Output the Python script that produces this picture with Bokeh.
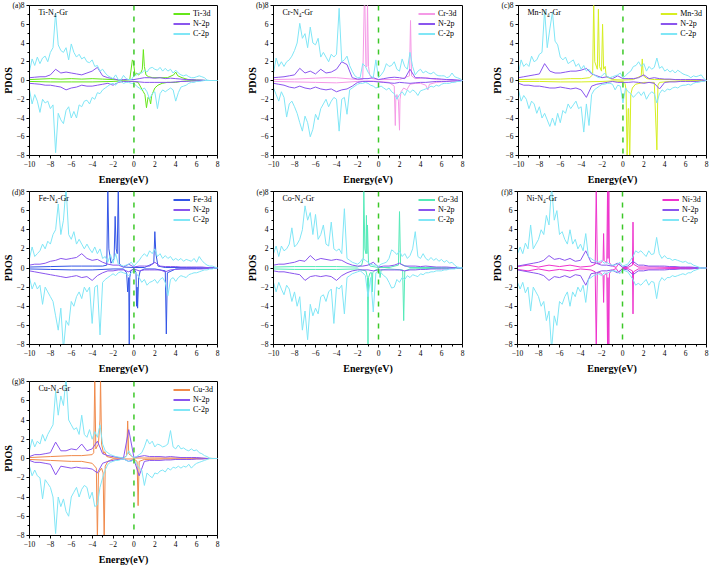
from bokeh.plotting import figure
from bokeh.models import Span, Label, Legend, LegendItem, FixedTicker
from bokeh.layouts import column, row
from bokeh.embed import file_html
from bokeh.resources import INLINE

# ---------------- energy grids (eV) ----------------
ENERGY_C = [-10.0, -9.75, -9.5, -9.25, -9.0, -8.75, -8.5, -8.25,
            -8.0, -7.75, -7.5, -7.25, -7.0, -6.75, -6.5, -6.25,
            -6.0, -5.75, -5.5, -5.25, -5.0, -4.75, -4.5, -4.25,
            -4.0, -3.75, -3.5, -3.25, -3.0, -2.75, -2.5, -2.25,
            -2.0, -1.75, -1.5, -1.25, -1.0, -0.75, -0.5, -0.25,
            0.0, 0.25, 0.5, 0.75, 1.0, 1.25, 1.5, 1.75,
            2.0, 2.25, 2.5, 2.75, 3.0, 3.25, 3.5, 3.75,
            4.0, 4.25, 4.5, 4.75, 5.0, 5.25, 5.5, 5.75,
            6.0, 6.25, 6.5, 6.75, 7.0, 7.25, 7.5, 7.75,
            8.0]
ENERGY_N = [-10.0, -9.5, -9.0, -8.5, -8.0, -7.5, -7.0, -6.5, -6.0, -5.5,
            -5.0, -4.5, -4.0, -3.5, -3.0, -2.5, -2.0, -1.5, -1.0, -0.5,
            0.0, 0.5, 1.0, 1.5, 2.0, 2.5, 3.0, 3.5, 4.0, 4.5,
            5.0, 5.5, 6.0, 6.5, 7.0, 7.5, 8.0]

# ---------------- (a) Ti-N4-Gr ----------------
TI_C_UP = [1.0, 2.3, 1.6, 2.5, 1.8, 2.4, 2.6, 2.0,
           3.0, 3.5, 7.2, 3.8, 3.2, 3.0, 3.5, 2.2,
           3.9, 3.0, 2.5, 2.8, 2.3, 2.5, 2.0, 1.9,
           2.2, 1.5, 1.6, 1.0, 1.2, 0.8, 0.5, 0.35,
           0.2, 0.6, 0.1, 0.05, 0.55, 0.2, 0.1, 0.1,
           0.5, 0.6, 0.8, 0.8, 1.1, 0.9, 1.3, 1.4,
           1.2, 1.1, 1.4, 1.0, 1.3, 1.0, 1.2, 0.8,
           1.1, 0.8, 0.6, 0.5, 0.6, 0.4, 0.3, 0.3,
           0.4, 0.5, 0.4, 0.3, 0.05, 0.0, 0.0, 0.0,
           0.0]
TI_C_DN = [-1.0, -2.5, -1.5, -2.2, -3.4, -2.0, -2.4, -2.2,
           -3.0, -2.6, -7.7, -3.5, -4.2, -4.6, -3.2, -2.8,
           -4.0, -3.3, -4.0, -2.6, -2.8, -2.2, -2.1, -2.5,
           -1.8, -2.0, -1.3, -1.4, -1.0, -0.8, -0.6, -0.4,
           -0.3, -0.5, -0.1, -0.1, -0.3, -0.2, -0.2, -0.3,
           -0.3, -0.6, -0.8, -1.0, -0.8, -1.2, -2.0, -1.4,
           -1.2, -3.0, -1.4, -1.0, -1.2, -1.0, -0.8, -1.0,
           -2.2, -1.3, -0.7, -0.6, -0.5, -0.3, -0.2, -0.2,
           -0.1, -0.1, -0.05, 0.0, 0.0, 0.0, 0.0, 0.0,
           0.0]
TI_N_UP = [0.3, 0.35, 0.4, 0.4, 0.6, 1.2, 0.8, 0.9, 0.8, 0.7,
           0.6, 0.8, 1.0, 1.4, 0.5, 0.3, 0.2, 0.05, 0.1, 0.1,
           0.1, 0.2, 0.3, 0.3, 0.25, 0.3, 0.2, 0.25, 0.2, 0.15,
           0.1, 0.1, 0.05, 0.05, 0.0, 0.0, 0.0]
TI_N_DN = [-0.3, -0.35, -0.4, -0.5, -0.5, -0.6, -0.7, -1.0, -0.8, -0.7,
           -0.5, -0.6, -0.6, -0.5, -0.4, -0.3, -0.5, -0.2, -0.1, -0.1,
           -0.1, -0.15, -0.2, -0.2, -0.2, -0.2, -0.2, -0.2, -0.15, -0.1,
           -0.1, -0.05, -0.05, 0.0, 0.0, 0.0, 0.0]
TI_D_UP_E = [-10, -9, -8, -7, -6, -5, -4, -3, -2, -1,
             -0.4, -0.15, -0.05, 0.1, 0.25, 0.45, 0.65, 0.8, 0.9, 1.0,
             1.15, 1.4, 1.8, 2.5, 3.2, 3.8, 4.0, 4.2, 4.6, 5.2,
             6.0, 7.0, 8.0]
TI_D_UP = [0.1, 0.15, 0.2, 0.15, 0.2, 0.15, 0.2, 0.15, 0.1, 0.05,
           0.1, 2.2, 2.0, 0.6, 0.8, 0.6, 0.8, 1.2, 3.3, 1.5,
           0.6, 0.4, 0.3, 0.3, 0.3, 0.6, 0.9, 0.5, 0.3, 0.1,
           0.05, 0.0, 0.0]
TI_D_DN_E = [-10, -8, -6, -4, -2, -1, 0, 0.4, 0.7, 0.9,
             1.05, 1.2, 1.35, 1.5, 1.6, 1.7, 1.85, 2.0, 2.3, 2.7,
             3.2, 4.0, 4.5, 5.0, 6.0, 8.0]
TI_D_DN = [-0.1, -0.15, -0.15, -0.15, -0.1, -0.05, -0.1, -0.2, -0.8, -1.2,
           -1.5, -2.9, -1.8, -2.0, -2.5, -1.6, -1.2, -0.8, -0.5, -0.3,
           -0.2, -0.2, -0.1, -0.05, 0.0, 0.0]

# ---------------- (b) Cr-N4-Gr ----------------
CR_C_UP = [0.8, 2.4, 1.5, 2.0, 1.5, 2.0, 2.2, 2.6,
           3.2, 4.0, 6.1, 4.5, 5.0, 3.5, 5.7, 4.0,
           3.8, 4.5, 2.5, 3.0, 2.5, 2.0, 2.8, 2.5,
           2.8, 7.7, 2.0, 2.2, 2.6, 1.6, 1.0, 0.5,
           0.3, 0.3, 1.8, 1.5, 0.9, 0.5, 0.3, 2.2,
           0.3, 0.6, 1.0, 1.8, 1.5, 1.6, 2.0, 1.2,
           1.0, 2.3, 1.5, 1.2, 3.0, 1.5, 0.6, 1.0,
           1.2, 0.8, 1.0, 0.8, 0.7, 0.9, 0.6, 0.5,
           0.5, 0.5, 0.3, 0.4, 0.8, 0.4, 0.3, 0.2,
           0.0]
CR_C_DN = [-0.8, -1.5, -2.2, -1.2, -1.8, -3.9, -2.5, -2.2,
           -2.8, -3.5, -4.5, -5.4, -3.8, -4.5, -6.0, -5.2,
           -3.6, -4.2, -3.0, -2.5, -2.0, -2.8, -2.2, -1.8,
           -2.0, -5.4, -2.0, -1.8, -3.6, -1.0, -0.8, -0.6,
           -0.4, -0.3, -0.3, -0.2, -0.3, -0.5, -0.6, -0.8,
           -0.7, -0.6, -0.8, -1.0, -0.8, -1.2, -1.4, -2.0,
           -1.5, -1.2, -1.6, -1.0, -1.3, -1.0, -1.2, -1.6,
           -1.1, -1.0, -0.9, -0.8, -0.6, -0.7, -0.5, -0.6,
           -0.4, -0.3, -0.3, -0.3, -0.2, -0.2, -0.1, -0.1,
           0.0]
CR_N_UP = [0.3, 0.35, 0.4, 0.5, 0.6, 1.3, 0.8, 1.0, 0.7, 1.2,
           0.8, 0.9, 1.2, 2.0, 1.7, 0.3, 0.15, 0.2, 0.2, 0.3,
           0.1, 0.2, 0.3, 0.35, 0.3, 0.2, 1.2, 0.3, 0.3, 0.25,
           0.2, 0.2, 0.15, 0.1, 0.1, 0.05, 0.0]
CR_N_DN = [-0.3, -0.4, -0.5, -0.7, -0.8, -0.6, -0.8, -0.9, -0.7, -0.9,
           -1.0, -0.9, -1.2, -1.0, -0.9, -0.6, -0.2, -0.1, -0.1, -0.1,
           -0.15, -0.2, -0.25, -0.3, -0.2, -0.25, -0.3, -0.25, -0.2, -0.2,
           -0.15, -0.1, -0.1, -0.1, -0.05, -0.05, 0.0]
CR_D_UP_E = [-10, -8, -6, -5, -4, -3, -2, -1.5, -1.35, -1.3,
             -1.2, -1.1, -1.05, -0.95, -0.85, -0.6, 0, 1, 2, 2.95,
             3.05, 3.15, 3.5, 4.6, 5.5, 7, 8]
CR_D_UP = [0.1, 0.15, 0.25, 0.3, 0.3, 0.2, 0.1, 0.1, 8.5, 8.5,
           1.5, 1.5, 8.5, 1.5, 0.6, 0.2, 0.1, 0.1, 0.1, 0.5,
           6.4, 0.5, 0.2, 0.3, 0.1, 0.05, 0.0]
CR_D_DN_E = [-10, -8, -6, -4, -2, -1, 0, 1, 1.5, 1.6,
             1.65, 1.75, 1.9, 2.0, 2.05, 2.15, 2.4, 2.7, 3.0, 3.5,
             4.0, 4.5, 4.7, 4.85, 5.5, 6.5, 8]
CR_D_DN = [-0.1, -0.15, -0.2, -0.25, -0.1, -0.05, -0.1, -0.2, -0.6, -4.8,
           -2.0, -1.5, -2.2, -5.3, -2.0, -1.2, -0.8, -1.0, -0.4, -0.3,
           -0.3, -0.5, -1.0, -0.4, -0.2, -0.1, 0.0]

# ---------------- (c) Mn-N4-Gr ----------------
MN_C_UP = [0.8, 2.2, 1.5, 1.8, 1.5, 2.6, 2.0, 2.2,
           2.8, 3.0, 7.5, 3.5, 5.5, 7.3, 4.2, 3.8,
           2.5, 2.2, 2.5, 1.8, 2.0, 2.2, 1.5, 1.8,
           1.2, 1.6, 1.0, 1.2, 0.8, 0.6, 0.4, 0.3,
           0.5, 0.8, 0.4, 0.3, 0.4, 0.5, 0.6, 0.8,
           0.3, 0.5, 0.8, 1.0, 1.5, 1.6, 2.0, 1.5,
           1.8, 1.0, 1.5, 1.2, 1.4, 2.4, 1.3, 1.5,
           1.0, 1.2, 0.9, 1.1, 0.8, 1.1, 0.9, 0.7,
           0.6, 0.5, 0.3, 0.5, 0.4, 0.5, 0.6, 0.2,
           0.0]
MN_C_DN = [-1.0, -2.2, -1.6, -2.0, -3.0, -2.2, -2.5, -3.5,
           -2.8, -4.0, -3.5, -4.2, -4.9, -4.0, -4.8, -3.5,
           -4.5, -3.2, -3.5, -2.5, -3.0, -2.6, -2.2, -3.0,
           -2.8, -5.5, -2.5, -4.8, -1.5, -1.0, -0.8, -0.6,
           -0.4, -0.4, -0.3, -0.3, -0.4, -1.0, -0.5, -0.6,
           -2.4, -0.8, -1.2, -1.4, -1.8, -1.5, -1.2, -1.6,
           -1.2, -2.0, -1.5, -1.2, -1.4, -2.4, -1.4, -1.0,
           -1.2, -0.9, -1.0, -0.8, -0.7, -0.8, -0.6, -0.5,
           -0.5, -0.4, -0.5, -0.3, -0.2, -0.2, -0.1, -0.1,
           0.0]
MN_N_UP = [0.3, 0.4, 0.5, 0.6, 0.7, 1.8, 1.0, 0.8, 0.8, 0.9,
           1.0, 1.0, 1.1, 1.3, 0.7, 0.5, 0.3, 0.4, 0.2, 0.5,
           0.2, 0.2, 0.2, 0.3, 0.6, 0.2, 0.3, 0.2, 0.15, 0.15,
           0.1, 0.1, 0.1, 0.1, 0.1, 0.1, 0.0]
MN_N_DN = [-0.3, -0.5, -0.5, -0.6, -0.6, -0.7, -0.8, -0.8, -0.7, -0.8,
           -0.9, -0.8, -1.0, -1.8, -0.6, -0.4, -0.3, -0.2, -0.1, -0.2,
           -0.2, -0.2, -0.15, -0.2, -0.3, -0.2, -0.3, -0.9, -0.2, -0.15,
           -0.15, -0.1, -0.1, -0.1, -0.1, -0.05, 0.0]
MN_D_UP_E = [-10, -8, -6, -5, -4, -3.2, -2.9, -2.8, -2.7, -2.45,
             -2.35, -2.25, -2.05, -1.95, -1.85, -1.7, -1.6, -1.4, -1, 0,
             1.0, 1.75, 1.85, 1.95, 2.3, 3, 4.5, 6, 8]
MN_D_UP = [0.1, 0.15, 0.15, 0.2, 0.2, 0.3, 0.6, 8.5, 2.0, 1.2,
           7.6, 1.5, 1.0, 6.0, 1.2, 1.5, 0.4, 0.3, 0.1, 0.05,
           0.1, 0.5, 2.3, 0.5, 0.2, 0.1, 0.1, 0.05, 0.0]
MN_D_DN_E = [-10, -8, -6, -4, -2, -1, 0, 0.2, 0.3, 0.4,
             0.5, 0.55, 0.65, 0.75, 0.9, 1.2, 2.0, 3.0, 3.25, 3.35,
             3.5, 4.5, 6, 8]
MN_D_DN = [-0.1, -0.1, -0.15, -0.15, -0.1, -0.05, -0.1, -0.3, -1.0, -8.5,
           -3.0, -3.0, -8.5, -1.5, -0.8, -0.4, -0.2, -0.2, -7.4, -0.5,
           -0.2, -0.1, -0.05, 0.0]

# ---------------- (d) Fe-N4-Gr ----------------
FE_C_UP = [1.0, 2.2, 1.2, 1.5, 1.8, 2.5, 2.0, 2.8,
           2.5, 3.5, 4.0, 6.7, 3.5, 5.0, 8.5, 3.5,
           3.0, 3.8, 2.5, 3.0, 2.5, 2.0, 2.5, 2.0,
           1.6, 2.2, 1.5, 2.0, 1.0, 1.2, 0.6, 1.4,
           0.5, 1.5, 0.4, 0.3, 0.2, 0.3, 0.4, 0.6,
           0.2, 0.5, 0.8, 1.2, 1.5, 1.2, 1.8, 1.5,
           2.0, 1.2, 1.5, 1.0, 1.3, 1.0, 1.2, 0.8,
           1.0, 0.8, 1.0, 0.7, 0.9, 0.8, 0.7, 1.0,
           0.6, 1.2, 0.8, 0.5, 0.3, 0.2, 0.2, 0.1,
           0.0]
FE_C_DN = [-1.0, -2.2, -1.5, -2.2, -1.8, -3.8, -2.0, -2.5,
           -3.0, -3.5, -5.0, -6.5, -4.2, -8.5, -5.5, -6.0,
           -3.5, -4.0, -3.0, -2.5, -3.2, -2.0, -2.5, -2.0,
           -5.8, -2.0, -1.8, -7.0, -1.5, -1.2, -1.0, -0.8,
           -0.6, -0.8, -0.5, -0.4, -0.5, -0.6, -0.8, -0.5,
           -0.3, -0.6, -1.0, -1.5, -1.2, -1.8, -1.5, -1.4,
           -1.2, -1.6, -1.2, -1.0, -1.5, -2.9, -1.2, -1.0,
           -1.4, -1.0, -0.8, -0.9, -1.0, -0.7, -0.6, -0.5,
           -0.5, -0.4, -0.3, -0.2, -0.2, -0.1, -0.1, 0.0,
           0.0]
FE_N_UP = [0.3, 0.4, 0.4, 0.5, 0.7, 0.8, 1.0, 0.9, 1.0, 1.1,
           1.5, 1.0, 0.8, 0.9, 0.6, 0.4, 0.3, 0.3, 0.1, 0.4,
           0.1, 0.2, 0.2, 0.2, 0.6, 0.2, 0.15, 0.15, 0.15, 0.1,
           0.1, 0.1, 0.1, 0.1, 0.05, 0.0, 0.0]
FE_N_DN = [-0.3, -0.4, -0.5, -0.6, -0.7, -0.8, -0.9, -1.0, -0.9, -0.8,
           -1.0, -0.9, -1.3, -0.8, -0.5, -0.3, -0.3, -0.2, -0.2, -0.4,
           -0.1, -0.3, -0.2, -0.2, -0.2, -0.2, -0.4, -0.2, -0.15, -0.1,
           -0.1, -0.1, -0.1, -0.1, -0.05, 0.0, 0.0]
FE_D_UP_E = [-10, -8, -6, -5, -4, -3, -2.6, -2.5, -2.4, -2.2,
             -1.9, -1.8, -1.7, -1.6, -1.5, -1.4, -1.2, -1, 0, 1,
             1.9, 2.0, 2.1, 2.3, 3, 5, 8]
FE_D_UP = [0.1, 0.15, 0.2, 0.2, 0.2, 0.2, 0.3, 8.5, 2.0, 0.5,
           1.0, 5.4, 2.0, 1.5, 8.5, 0.5, 0.2, 0.1, 0.05, 0.05,
           0.5, 3.8, 1.5, 0.2, 0.05, 0.05, 0.0]
FE_D_DN_E = [-10, -8, -6, -4, -2, -1, -0.7, -0.6, -0.5, -0.45,
             -0.4, -0.3, 0, 0.2, 0.25, 0.3, 0.35, 0.45, 0.6, 1,
             2, 3.0, 3.1, 3.2, 4, 6, 8]
FE_D_DN = [-0.1, -0.15, -0.2, -0.2, -0.1, -0.1, -0.5, -2.5, -1.0, -8.5,
           -1.0, -0.3, -0.05, -0.5, -4.0, -2.0, -4.2, -1.0, -0.3, -0.1,
           -0.1, -0.3, -6.9, -0.5, -0.1, -0.05, 0.0]

# ---------------- (e) Co-N4-Gr ----------------
CO_C_UP = [1.5, 2.3, 1.2, 2.3, 1.8, 2.0, 2.5, 4.2,
           2.2, 2.5, 3.0, 4.0, 6.5, 5.0, 5.8, 3.5,
           5.6, 3.0, 3.5, 4.5, 2.5, 2.3, 4.8, 2.0,
           1.8, 2.0, 1.5, 6.2, 1.0, 0.8, 0.6, 0.5,
           0.4, 0.6, 1.0, 0.8, 0.6, 0.4, 0.3, 0.3,
           0.2, 0.4, 0.5, 0.6, 1.0, 1.9, 1.7, 1.4,
           1.8, 1.2, 1.5, 1.0, 1.3, 2.0, 3.8, 1.2,
           1.0, 1.5, 1.0, 0.8, 1.1, 0.8, 1.0, 0.7,
           0.9, 0.6, 0.8, 0.5, 0.6, 0.3, 0.1, 0.05,
           0.0]
CO_C_DN = [-1.5, -2.5, -1.5, -2.2, -2.8, -1.8, -2.2, -3.5,
           -2.5, -4.0, -3.0, -6.5, -4.5, -7.5, -3.8, -5.0,
           -4.2, -4.8, -3.0, -2.8, -3.5, -2.5, -2.2, -5.8,
           -2.0, -2.2, -1.8, -4.8, -1.0, -0.8, -0.6, -0.5,
           -0.4, -0.3, -0.5, -0.8, -3.0, -1.0, -4.6, -0.5,
           -0.3, -0.5, -0.8, -1.0, -1.5, -2.1, -2.0, -1.2,
           -1.5, -1.0, -1.2, -0.8, -1.0, -0.7, -0.8, -0.9,
           -0.6, -0.7, -0.5, -0.5, -0.4, -0.4, -0.3, -0.3,
           -0.3, -0.2, -0.2, -0.1, -0.1, -0.1, 0.0, 0.0,
           0.0]
CO_N_UP = [0.3, 0.4, 0.4, 0.5, 0.6, 0.8, 0.7, 1.3, 0.8, 1.0,
           0.9, 0.8, 0.9, 0.8, 0.5, 0.3, 0.2, 0.2, 0.3, 0.6,
           0.1, 0.2, 0.2, 0.3, 0.5, 0.2, 0.2, 0.2, 0.15, 0.2,
           0.15, 0.1, 0.1, 0.1, 0.05, 0.0, 0.0]
CO_N_DN = [-0.3, -0.4, -0.4, -0.5, -0.6, -0.7, -1.3, -0.9, -0.8, -0.9,
           -0.8, -0.9, -1.3, -0.8, -0.5, -0.3, -0.2, -0.2, -0.2, -0.3,
           -0.2, -0.2, -0.2, -0.2, -0.2, -0.3, -0.2, -0.2, -0.15, -0.15,
           -0.1, -0.1, -0.1, -0.1, -0.05, 0.0, 0.0]
CO_D_UP_E = [-10, -8, -6, -4, -2, -1.6, -1.45, -1.4, -1.3, -1.2,
             -1.15, -1.1, -1.05, -0.95, -0.8, 0, 1, 1.9, 2.0, 2.1,
             3, 5, 8]
CO_D_UP = [0.1, 0.15, 0.15, 0.15, 0.1, 0.3, 1.0, 8.5, 2.0, 1.5,
           5.5, 1.5, 4.5, 0.5, 0.2, 0.05, 0.05, 0.3, 5.9, 0.4,
           0.05, 0.05, 0.0]
CO_D_DN_E = [-10, -8, -6, -4, -2, -1.2, -1.05, -1.0, -0.95, -0.8,
             -0.65, -0.6, -0.55, -0.3, 0, 0.1, 0.15, 0.25, 1, 2.3,
             2.4, 2.5, 3, 5, 8]
CO_D_DN = [-0.1, -0.15, -0.15, -0.15, -0.1, -0.3, -1.0, -8.5, -1.0, -0.5,
           -0.5, -2.5, -0.5, -0.2, -0.1, -0.5, -1.0, -0.2, -0.1, -0.2,
           -5.5, -0.3, -0.1, -0.05, 0.0]

# ---------------- (f) Ni-N4-Gr (spin-symmetric) ----------------
NI_C_UP = [1.5, 2.2, 1.5, 2.6, 2.0, 4.5, 2.0, 2.5,
           3.0, 4.0, 3.5, 5.5, 4.5, 8.5, 5.0, 6.0,
           3.5, 3.8, 3.0, 2.5, 4.0, 2.5, 3.0, 2.0,
           2.5, 1.8, 3.6, 1.2, 1.0, 0.8, 0.7, 0.6,
           0.8, 0.5, 0.6, 0.4, 0.3, 0.3, 0.4, 0.6,
           0.2, 0.3, 0.4, 0.8, 1.2, 1.8, 1.6, 1.8,
           1.5, 1.2, 1.8, 1.4, 1.5, 3.2, 1.5, 1.0,
           1.3, 1.0, 1.0, 0.8, 0.9, 0.8, 0.7, 0.6,
           0.7, 0.5, 0.5, 0.3, 0.2, 0.1, 0.0, 0.0,
           0.0]
NI_C_DN = [-1.5, -2.2, -1.5, -2.6, -2.0, -4.5, -2.0, -2.5,
           -3.0, -4.0, -3.5, -5.5, -4.5, -8.5, -5.0, -6.0,
           -3.5, -3.8, -3.0, -2.5, -4.0, -2.5, -3.0, -2.0,
           -2.5, -1.8, -3.6, -1.2, -1.0, -0.8, -0.7, -0.6,
           -0.8, -0.5, -0.6, -0.4, -0.3, -0.3, -0.4, -0.6,
           -0.2, -0.3, -0.4, -0.8, -1.2, -1.8, -1.6, -1.8,
           -1.5, -1.2, -1.8, -1.4, -1.5, -3.2, -1.5, -1.0,
           -1.3, -1.0, -1.0, -0.8, -0.9, -0.8, -0.7, -0.6,
           -0.7, -0.5, -0.5, -0.3, -0.2, -0.1, 0.0, 0.0,
           0.0]
NI_N_UP = [0.2, 0.3, 0.4, 0.5, 0.6, 0.8, 1.3, 0.9, 1.0, 0.8,
           1.0, 0.7, 0.8, 1.8, 0.6, 0.5, 0.3, 0.3, 0.2, 0.5,
           0.1, 0.2, 0.7, 0.3, 0.3, 0.2, 0.2, 0.2, 0.2, 0.15,
           0.15, 0.1, 0.1, 0.1, 0.05, 0.0, 0.0]
NI_N_DN = [-0.2, -0.3, -0.4, -0.5, -0.6, -0.8, -1.3, -0.9, -1.0, -0.8,
           -1.0, -0.7, -0.8, -1.8, -0.6, -0.5, -0.3, -0.3, -0.2, -0.5,
           -0.1, -0.2, -0.7, -0.3, -0.3, -0.2, -0.2, -0.2, -0.2, -0.15,
           -0.15, -0.1, -0.1, -0.1, -0.05, 0.0, 0.0]
NI_D_E = [-10, -9, -8, -7, -6, -5, -4, -3, -2.6, -2.5,
          -2.4, -2.1, -1.85, -1.8, -1.75, -1.5, -1.42, -1.38, -1.3, -1.25,
          -1.1, -0.6, -0.35, -0.15, 0, 0.5, 0.95, 1.0, 1.05, 1.5,
          3, 5, 7, 8]
NI_D_UP = [0.15, 0.3, 0.1, 0.3, 0.15, 0.3, 0.1, 0.2, 0.4, 8.5,
           0.5, 0.5, 0.8, 3.6, 0.8, 0.5, 8.5, 1.0, 8.5, 0.6,
           0.3, 0.05, 0.5, 0.2, 0.05, 0.05, 0.3, 4.8, 0.4, 0.1,
           0.1, 0.05, 0.05, 0.0]
NI_D_DN = [-0.15, -0.3, -0.1, -0.3, -0.15, -0.3, -0.1, -0.2, -0.4, -8.5,
           -0.5, -0.5, -0.8, -3.6, -0.8, -0.5, -8.5, -1.0, -8.5, -0.6,
           -0.3, -0.05, -0.5, -0.2, -0.05, -0.05, -0.3, -4.8, -0.4, -0.1,
           -0.1, -0.05, -0.05, 0.0]

# ---------------- (g) Cu-N4-Gr ----------------
CU_C_UP = [0.8, 2.0, 1.2, 1.8, 1.5, 2.5, 1.8, 2.5,
           3.0, 3.5, 7.0, 4.5, 6.5, 5.5, 8.5, 4.0,
           3.5, 3.0, 3.2, 2.5, 4.5, 2.5, 2.2, 3.0,
           2.0, 2.8, 2.2, 3.5, 1.5, 0.8, 0.6, 0.4,
           0.3, 0.2, 0.15, 0.1, 0.05, 0.2, 0.8, 0.3,
           0.1, 0.2, 0.4, 0.6, 1.2, 2.0, 1.5, 1.8,
           1.2, 1.5, 1.4, 1.2, 1.3, 1.5, 2.9, 1.2,
           1.0, 1.4, 1.0, 1.1, 0.9, 0.8, 1.0, 0.8,
           0.9, 0.6, 0.5, 0.3, 0.2, 0.05, 0.0, 0.0,
           0.0]
CU_C_DN = [-0.8, -1.8, -1.2, -1.8, -2.0, -4.2, -2.2, -2.6,
           -3.0, -4.0, -7.8, -4.0, -5.0, -4.2, -5.5, -6.0,
           -4.0, -3.5, -3.0, -4.0, -3.2, -2.8, -3.0, -4.2,
           -3.5, -5.0, -4.8, -3.0, -2.0, -1.2, -0.6, -0.4,
           -0.3, -0.2, -0.2, -0.1, -0.05, -0.2, -0.3, -0.3,
           -0.1, -0.6, -1.0, -1.2, -2.8, -1.5, -1.8, -2.0,
           -1.5, -1.6, -1.3, -1.2, -1.4, -1.0, -1.2, -0.9,
           -1.0, -0.8, -1.0, -0.8, -0.9, -0.6, -1.0, -0.7,
           -0.5, -0.4, -0.3, -0.2, -0.1, 0.0, 0.0, 0.0,
           0.0]
CU_N_UP = [0.2, 0.4, 0.4, 0.5, 0.6, 1.7, 0.8, 0.8, 1.0, 0.9,
           1.5, 0.8, 1.0, 1.8, 0.5, 0.3, 0.2, 0.1, 0.05, 3.0,
           0.1, 0.2, 0.3, 0.2, 0.2, 0.2, 0.15, 0.2, 0.15, 0.1,
           0.1, 0.1, 0.1, 0.05, 0.0, 0.0, 0.0]
CU_N_DN = [-0.2, -0.4, -0.4, -0.5, -0.6, -1.7, -0.8, -0.9, -1.0, -0.9,
           -1.0, -1.0, -1.1, -1.5, -0.5, -0.3, -0.2, -0.1, -0.05, -0.3,
           -0.1, -1.8, -0.3, -0.2, -0.2, -0.2, -0.15, -0.15, -0.1, -0.1,
           -0.1, -0.1, -0.05, -0.05, 0.0, 0.0, 0.0]
CU_D_UP_E = [-10, -8, -6, -5, -4, -3.85, -3.75, -3.65, -3.4, -3.25,
             -3.2, -3.1, -2.9, -2.8, -2.6, -2, -1, -0.7, -0.6, -0.5,
             0, 2, 5, 8]
CU_D_UP = [0.1, 0.2, 0.3, 0.3, 0.4, 0.6, 8.5, 1.0, 1.5, 4.0,
           8.5, 1.5, 0.5, 0.7, 0.2, 0.05, 0.05, 0.3, 3.9, 0.5,
           0.05, 0.05, 0.05, 0.0]
CU_D_DN_E = [-10, -8, -6, -5, -4, -3.6, -3.5, -3.4, -3.1, -2.95,
             -2.85, -2.75, -2.5, -2, -1, 0, 0.3, 0.4, 0.5, 1,
             3, 5, 8]
CU_D_DN = [-0.1, -0.2, -0.3, -0.3, -0.5, -1.0, -8.5, -1.5, -1.0, -1.5,
           -8.5, -0.8, -0.3, -0.05, -0.05, -0.05, -0.3, -4.9, -0.3, -0.1,
           -0.05, -0.05, 0.0]

PANEL_TAGS = ["(a)", "(b)", "(c)", "(d)", "(e)", "(f)", "(g)"]
METALS = ["Ti", "Cr", "Mn", "Fe", "Co", "Ni", "Cu"]
METAL_COLORS = ["#66e619", "#f59ae6", "#d6ee22", "#3355e6", "#55eab8", "#ee33cc", "#f08a4b"]
N_COLOR = "#8a55ee"
C_COLOR = "#80e6f6"
FERMI_COLOR = "#3cc828"
X_TICKS = [-10, -8, -6, -4, -2, 0, 2, 4, 6, 8]
X_MINOR = [-9, -7, -5, -3, -1, 1, 3, 5, 7]
Y_TICKS = [-8, -6, -4, -2, 0, 2, 4, 6, 8]
Y_MINOR = [-7, -5, -3, -1, 1, 3, 5, 7]

PANEL_DATA = [
    (TI_D_UP_E, TI_D_UP, TI_D_DN_E, TI_D_DN, TI_N_UP, TI_N_DN, TI_C_UP, TI_C_DN),
    (CR_D_UP_E, CR_D_UP, CR_D_DN_E, CR_D_DN, CR_N_UP, CR_N_DN, CR_C_UP, CR_C_DN),
    (MN_D_UP_E, MN_D_UP, MN_D_DN_E, MN_D_DN, MN_N_UP, MN_N_DN, MN_C_UP, MN_C_DN),
    (FE_D_UP_E, FE_D_UP, FE_D_DN_E, FE_D_DN, FE_N_UP, FE_N_DN, FE_C_UP, FE_C_DN),
    (CO_D_UP_E, CO_D_UP, CO_D_DN_E, CO_D_DN, CO_N_UP, CO_N_DN, CO_C_UP, CO_C_DN),
    (NI_D_E, NI_D_UP, NI_D_E, NI_D_DN, NI_N_UP, NI_N_DN, NI_C_UP, NI_C_DN),
    (CU_D_UP_E, CU_D_UP, CU_D_DN_E, CU_D_DN, CU_N_UP, CU_N_DN, CU_C_UP, CU_C_DN),
]

FONT = "Liberation Serif"

# layout geometry: (width, border_left, border_right) per column; (height, top, bottom) per row
COLS = [(244, 24, 27), (245, 27, 27), (225, 27, 8)]
ROWS = [(187, 5, 28), (189, 4, 30), (191, 5, 30)]


def make_panel(i):
    col = COLS[i % 3]
    rw = ROWS[i // 3]
    d_up_e, d_up, d_dn_e, d_dn, n_up, n_dn, c_up, c_dn = PANEL_DATA[i]
    mcol = METAL_COLORS[i]
    p = figure(width=col[0], height=rw[0], x_range=(-10, 8), y_range=(-8, 8),
               output_backend="svg", toolbar_location=None,
               min_border_left=col[1], min_border_right=col[2],
               min_border_top=rw[1], min_border_bottom=rw[2])
    p.background_fill_color = "white"
    p.border_fill_color = "white"
    p.outline_line_color = "black"
    p.outline_line_width = 1
    p.xgrid.visible = False
    p.ygrid.visible = False

    p.line(d_up_e, d_up, line_color=mcol, line_width=1)
    p.line(d_dn_e, d_dn, line_color=mcol, line_width=1)
    p.line(ENERGY_N, n_up, line_color=N_COLOR, line_width=1)
    p.line(ENERGY_N, n_dn, line_color=N_COLOR, line_width=1)
    p.line(ENERGY_C, c_up, line_color=C_COLOR, line_width=1)
    p.line(ENERGY_C, c_dn, line_color=C_COLOR, line_width=1)

    p.add_layout(Span(location=0, dimension="height", line_color=FERMI_COLOR,
                      line_dash="5 6", line_width=1.5))

    # legend samples: thicker lines, kept outside the visible range
    lm = p.line([20, 21], [20, 20], line_color=mcol, line_width=2)
    ln = p.line([20, 21], [20, 20], line_color=N_COLOR, line_width=2)
    lc = p.line([20, 21], [20, 20], line_color=C_COLOR, line_width=2)
    legend = Legend(items=[LegendItem(label=METALS[i] + "-3d", renderers=[lm]),
                           LegendItem(label="N-2p", renderers=[ln]),
                           LegendItem(label="C-2p", renderers=[lc])],
                    location="top_right", background_fill_alpha=0,
                    border_line_alpha=0, label_text_font=FONT,
                    label_text_color="black",
                    label_text_font_size="8px", glyph_width=17, glyph_height=9,
                    label_height=9, label_standoff=3, spacing=1, padding=1,
                    margin=3)
    p.add_layout(legend)

    p.add_layout(Label(x=-10, y=8, x_offset=9, y_offset=-7,
                       text=METALS[i] + "-N\u2084-Gr", text_font=FONT,
                       text_font_size="8px", text_baseline="middle",
                       text_align="left", text_color="black"))

    p.xaxis.ticker = FixedTicker(ticks=X_TICKS, minor_ticks=X_MINOR)
    p.yaxis.ticker = FixedTicker(ticks=Y_TICKS, minor_ticks=Y_MINOR)
    p.yaxis.major_label_overrides = {8: PANEL_TAGS[i] + "8"}
    p.xaxis.axis_label = "Energy(eV)"
    p.yaxis.axis_label = "PDOS"
    for ax in (p.xaxis[0], p.yaxis[0]):
        ax.axis_label_text_font = FONT
        ax.axis_label_text_font_style = "bold"
        ax.axis_label_text_font_size = "10px"
        ax.axis_label_text_color = "black"
        ax.major_label_text_font = FONT
        ax.major_label_text_font_size = "7.5px"
        ax.major_label_text_color = "black"
        ax.major_label_standoff = 2
        ax.major_tick_out = 3
        ax.major_tick_in = 0
        ax.minor_tick_out = 2
        ax.minor_tick_in = 0
        ax.axis_line_color = "black"
        ax.major_tick_line_color = "black"
        ax.minor_tick_line_color = "black"
    p.xaxis.axis_label_standoff = 4
    p.yaxis.axis_label_standoff = -5
    return p


panels = [make_panel(i) for i in range(7)]
layout = column(row(panels[0], panels[1], panels[2]),
                row(panels[3], panels[4], panels[5]),
                row(panels[6]))

open("out.html", "w").write(file_html(layout, INLINE))
